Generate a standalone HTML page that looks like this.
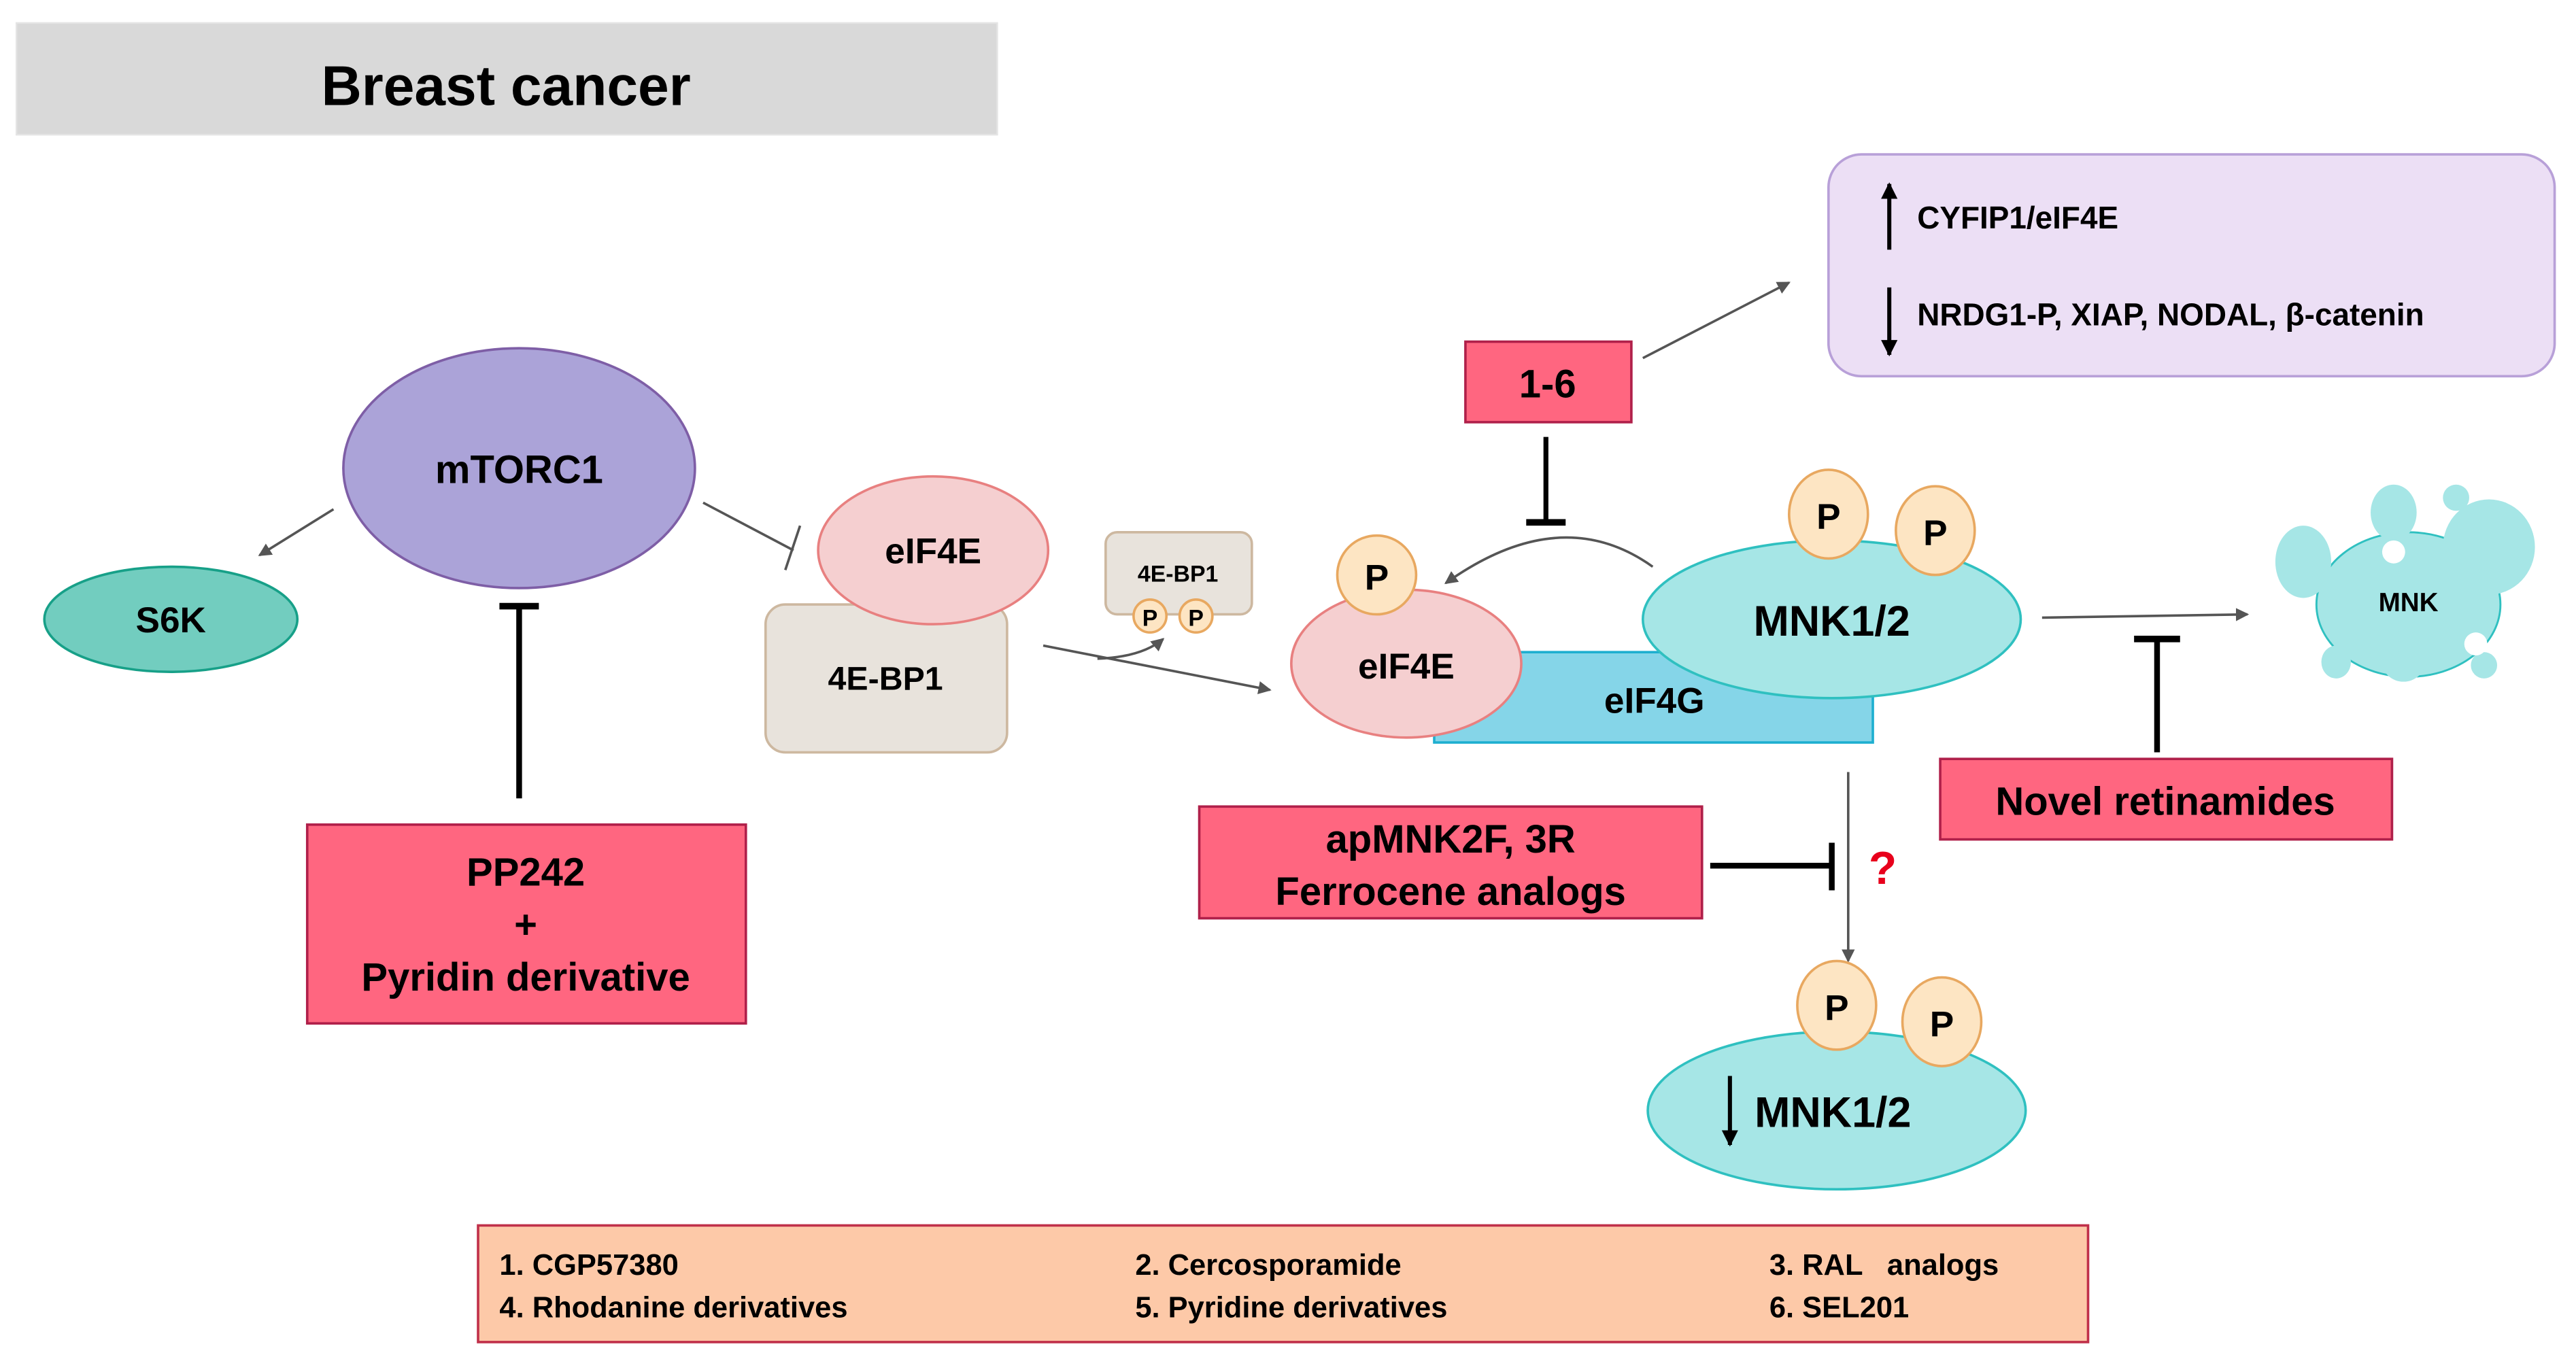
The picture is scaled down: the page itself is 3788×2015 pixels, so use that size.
<!DOCTYPE html>
<html><head><meta charset="utf-8"><style>html,body{margin:0;padding:0;background:#fff}svg{display:block}text{font-family:"Liberation Sans",Arial,sans-serif;font-weight:bold;fill:#000}</style></head><body>
<svg width="3788" height="2015" viewBox="0 0 1568 834" preserveAspectRatio="none" xmlns="http://www.w3.org/2000/svg">
<defs>
<marker id="ag" markerWidth="8" markerHeight="8" refX="7" refY="4" orient="auto" markerUnits="userSpaceOnUse"><path d="M0,0 L8,4 L0,8 z" fill="#555"/></marker>
<marker id="ab" markerWidth="10" markerHeight="10" refX="9" refY="5" orient="auto" markerUnits="userSpaceOnUse"><path d="M0,0 L10,5 L0,10 z" fill="#000"/></marker>
</defs>
<rect x="10" y="14" width="597" height="68" fill="#d9d9d9" stroke="#e4e4e4"/>
<text x="308" y="64" font-size="34" text-anchor="middle">Breast cancer</text>

<ellipse cx="316" cy="285" rx="107" ry="73" fill="#aba3d8" stroke="#7e5ea6" stroke-width="1.5"/>
<text x="316" y="294" font-size="24" text-anchor="middle">mTORC1</text>
<ellipse cx="104" cy="377" rx="77" ry="32" fill="#72cdbf" stroke="#17a088" stroke-width="1.5"/>
<text x="104" y="385" font-size="22" text-anchor="middle">S6K</text>
<line x1="203" y1="310" x2="158" y2="338" stroke="#555" stroke-width="1.5" marker-end="url(#ag)"/>
<line x1="428" y1="306" x2="483" y2="335" stroke="#555" stroke-width="1.5"/>
<line x1="487" y1="320" x2="478" y2="347" stroke="#555" stroke-width="1.5"/>
<line x1="316" y1="486" x2="316" y2="369" stroke="#000" stroke-width="3.5"/>
<line x1="304" y1="369" x2="328" y2="369" stroke="#000" stroke-width="4"/>
<rect x="187" y="502" width="267" height="121" fill="#ff6680" stroke="#b0204a" stroke-width="1.5"/>
<text x="320" y="539" font-size="24" text-anchor="middle">PP242</text>
<text x="320" y="571" font-size="24" text-anchor="middle">+</text>
<text x="320" y="603" font-size="24" text-anchor="middle">Pyridin derivative</text>

<rect x="466" y="368" width="147" height="90" rx="12" fill="#e8e3dc" stroke="#cdb8a0" stroke-width="1.5"/>
<text x="539" y="420" font-size="20" text-anchor="middle">4E-BP1</text>
<ellipse cx="568" cy="335" rx="70" ry="45" fill="#f5cfd0" stroke="#e88080" stroke-width="1.5"/>
<text x="568" y="343" font-size="22" text-anchor="middle">eIF4E</text>

<rect x="673" y="324" width="89" height="50" rx="7" fill="#e8e3dc" stroke="#cdb8a0" stroke-width="1.5"/>
<text x="717" y="354" font-size="14" text-anchor="middle">4E-BP1</text>
<circle cx="700" cy="375" r="10" fill="#fde5c3" stroke="#e8a860" stroke-width="1.5"/>
<circle cx="728" cy="375" r="10" fill="#fde5c3" stroke="#e8a860" stroke-width="1.5"/>
<text x="700" y="381" font-size="14" text-anchor="middle">P</text>
<text x="728" y="381" font-size="14" text-anchor="middle">P</text>
<line x1="635" y1="393" x2="773" y2="420" stroke="#555" stroke-width="1.5" marker-end="url(#ag)"/>
<path d="M668,401 Q695,400 708,389" fill="none" stroke="#555" stroke-width="1.5" marker-end="url(#ag)"/>

<rect x="873" y="397" width="267" height="55" fill="#85d5e8" stroke="#1eafd0" stroke-width="1.5"/>
<text x="1007" y="434" font-size="22" text-anchor="middle">eIF4G</text>
<ellipse cx="856" cy="404" rx="70" ry="45" fill="#f5cfd0" stroke="#e88080" stroke-width="1.5"/>
<text x="856" y="413" font-size="22" text-anchor="middle">eIF4E</text>
<circle cx="838" cy="350" r="24" fill="#fde5c3" stroke="#e8a860" stroke-width="1.5"/>
<text x="838" y="359" font-size="22" text-anchor="middle">P</text>
<ellipse cx="1115" cy="377" rx="115" ry="48" fill="#a6e6e6" stroke="#2fc0c0" stroke-width="1.5"/>
<text x="1115" y="387" font-size="26" text-anchor="middle">MNK1/2</text>
<ellipse cx="1113" cy="313" rx="24" ry="27" fill="#fde5c3" stroke="#e8a860" stroke-width="1.5"/>
<text x="1113" y="322" font-size="22" text-anchor="middle">P</text>
<ellipse cx="1178" cy="323" rx="24" ry="27" fill="#fde5c3" stroke="#e8a860" stroke-width="1.5"/>
<text x="1178" y="332" font-size="22" text-anchor="middle">P</text>
<path d="M1006,345 Q950,305 880,355" fill="none" stroke="#555" stroke-width="1.5" marker-end="url(#ag)"/>

<rect x="892" y="208" width="101" height="49" fill="#ff6680" stroke="#b0204a" stroke-width="1.5"/>
<text x="942" y="242" font-size="24" text-anchor="middle">1-6</text>
<line x1="941" y1="266" x2="941" y2="318" stroke="#000" stroke-width="3"/>
<line x1="929" y1="318" x2="953" y2="318" stroke="#000" stroke-width="4"/>
<line x1="1000" y1="218" x2="1089" y2="172" stroke="#555" stroke-width="1.5" marker-end="url(#ag)"/>

<rect x="1113" y="94" width="442" height="135" rx="20" fill="#ecdff5" stroke="#b8a0d8" stroke-width="1.5"/>
<line x1="1150" y1="152" x2="1150" y2="112" stroke="#000" stroke-width="2.5" marker-end="url(#ab)"/>
<text x="1167" y="139" font-size="19">CYFIP1/eIF4E</text>
<line x1="1150" y1="175" x2="1150" y2="216" stroke="#000" stroke-width="2.5" marker-end="url(#ab)"/>
<text x="1167" y="198" font-size="19">NRDG1-P, XIAP, NODAL, β-catenin</text>

<line x1="1243" y1="376" x2="1368" y2="374" stroke="#555" stroke-width="1.5" marker-end="url(#ag)"/>
<line x1="1313" y1="458" x2="1313" y2="389" stroke="#000" stroke-width="3.5"/>
<line x1="1299" y1="389" x2="1327" y2="389" stroke="#000" stroke-width="4"/>
<rect x="1181" y="462" width="275" height="49" fill="#ff6680" stroke="#b0204a" stroke-width="1.5"/>
<text x="1318" y="496" font-size="24" text-anchor="middle">Novel retinamides</text>

<g fill="#a6e6e6">
<ellipse cx="1466" cy="368" rx="56" ry="44" stroke="#2fc0c0" stroke-width="1.2"/>
<ellipse cx="1402" cy="342" rx="17" ry="22"/>
<ellipse cx="1457" cy="312" rx="14" ry="17"/>
<circle cx="1495" cy="303" r="8"/>
<ellipse cx="1515" cy="333" rx="28" ry="29"/>
<ellipse cx="1422" cy="403" rx="9" ry="10"/>
<ellipse cx="1463" cy="403" rx="13" ry="12"/>
<circle cx="1512" cy="405" r="8"/>
</g>
<circle cx="1457" cy="336" r="7" fill="#fff"/>
<circle cx="1507" cy="392" r="7" fill="#fff"/>
<text x="1466" y="372" font-size="16" text-anchor="middle">MNK</text>

<line x1="1125" y1="470" x2="1125" y2="585" stroke="#555" stroke-width="1.5" marker-end="url(#ag)"/>
<text x="1146" y="538" font-size="28" style="fill:#e8001c" text-anchor="middle">?</text>
<rect x="730" y="491" width="306" height="68" fill="#ff6680" stroke="#b0204a" stroke-width="1.5"/>
<text x="883" y="519" font-size="24" text-anchor="middle">apMNK2F, 3R</text>
<text x="883" y="551" font-size="24" text-anchor="middle">Ferrocene  analogs</text>
<line x1="1041" y1="527" x2="1115" y2="527" stroke="#000" stroke-width="3.5"/>
<line x1="1115" y1="513" x2="1115" y2="542" stroke="#000" stroke-width="3.5"/>

<ellipse cx="1118" cy="676" rx="115" ry="48" fill="#a6e6e6" stroke="#2fc0c0" stroke-width="1.5"/>
<ellipse cx="1118" cy="612" rx="24" ry="27" fill="#fde5c3" stroke="#e8a860" stroke-width="1.5"/>
<text x="1118" y="621" font-size="22" text-anchor="middle">P</text>
<ellipse cx="1182" cy="622" rx="24" ry="27" fill="#fde5c3" stroke="#e8a860" stroke-width="1.5"/>
<text x="1182" y="631" font-size="22" text-anchor="middle">P</text>
<line x1="1053" y1="655" x2="1053" y2="697" stroke="#000" stroke-width="2.5" marker-end="url(#ab)"/>
<text x="1068" y="686" font-size="26">MNK1/2</text>

<rect x="291" y="746" width="980" height="71" fill="#fdc9a8" stroke="#c0304a" stroke-width="1.5"/>
<g font-size="18">
<text x="304" y="776">1. CGP57380</text>
<text x="304" y="802">4. Rhodanine derivatives</text>
<text x="691" y="776">2. Cercosporamide</text>
<text x="691" y="802">5. Pyridine derivatives</text>
<text x="1077" y="776" xml:space="preserve">3. RAL   analogs</text>
<text x="1077" y="802">6. SEL201</text>
</g>
</svg>
</body></html>
